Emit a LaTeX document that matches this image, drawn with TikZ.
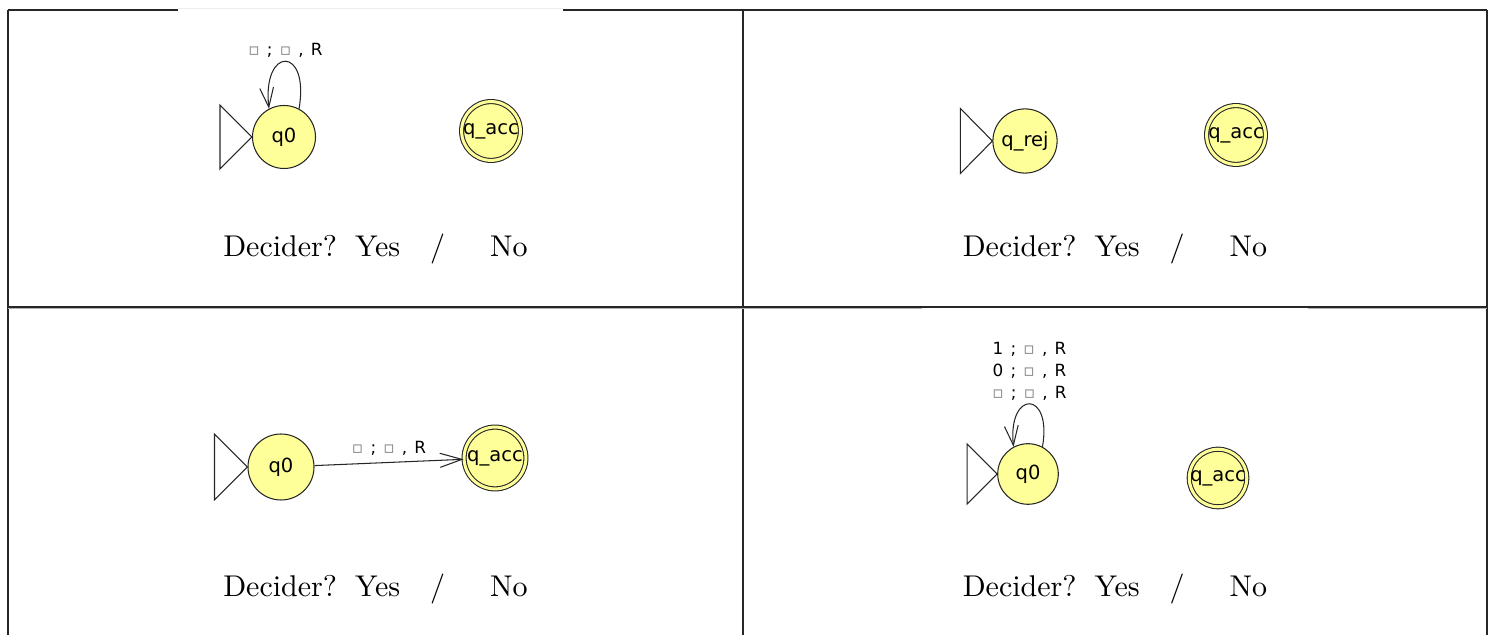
\documentclass[tikz,border=0pt]{standalone}
\usepackage{fontspec}
\usetikzlibrary{arrows.meta}
\newfontfamily\jflapfont{DejaVu Sans}
\definecolor{stateyellow}{RGB}{255,255,153}
\newcommand{\tapeblank}{\textcolor{gray}{\char"25AB}}
\newcommand{\lsp}{\hspace{2.4pt}}
\tikzset{
  state/.style={circle,draw=black!85,fill=stateyellow,line width=0.35pt,minimum size=21pt,inner sep=0pt,font=\jflapfont\fontsize{6.5}{7}\selectfont},
  accepting/.style={state,double=stateyellow,double distance=1pt,minimum size=19.6pt},
  startmark/.style={draw=black!85,line width=0.35pt},
  trans/.style={draw=black!85,line width=0.35pt,-{Straight Barb[length=6.5pt,width=4.6pt]}},
  translabel/.style={font=\jflapfont\fontsize{5.6}{7.3}\selectfont,inner sep=1pt,align=center},
  decider/.style={anchor=base,font=\normalsize},
  grid/.style={draw=black!85,line width=0.4pt},
}
\begin{document}
\begin{tikzpicture}[x=0.33333pt,y=-0.33333pt]
      \useasboundingbox (0,0) rectangle (1493,635);
      % table lines
      \draw[grid] (8,10) -- (178,10);
      \draw[grid] (563,10) -- (1487,10);
      \draw[gray!15] (178,8.5) -- (563,8.5);
      \draw[grid] (8,10) -- (8,635);
      \draw[grid] (743,10) -- (743,635);
      \draw[grid] (1487,10) -- (1487,635);
      \draw[grid] (8,307) -- (1487,307);
      \draw[gray!60] (8,308.7) -- (922,308.7);
      \draw[gray!60] (1308,308.7) -- (1487,308.7);

      % top left
      \node[state] (tlq0) at (284,137) {q0};
      \node[accepting] (tlacc) at (491,131) {q\_acc};
      \draw[startmark] (tlq0.west) -- ++(-32,-32) -- ++(0,64) -- cycle;
      \draw[trans] (tlq0.62) .. controls +(11,-63) and +(-7,-63) .. (tlq0.118)
            node[pos=0.5,above,translabel] {\tapeblank\lsp;\lsp\tapeblank\lsp,\lsp R};
      \node[decider] (tltext) at (375.5,257) {Decider?\hspace{6pt}Yes\quad/\hspace{15pt}No};

      % top right
      \node[state,minimum size=21.4pt] (trrej) at (1025,141) {q\_rej};
      \node[accepting] (tracc) at (1236,135) {q\_acc};
      \draw[startmark] (trrej.west) -- ++(-32,-32.5) -- ++(0,65) -- cycle;
      \node[decider] (trtext) at (1115,257) {Decider?\hspace{6pt}Yes\quad/\hspace{15pt}No};

      % bottom left
      \node[state,minimum size=22pt] (blq0) at (281,467) {q0};
      \node[accepting,minimum size=20.6pt] (blacc) at (495,458) {q\_acc};
      \draw[startmark] (blq0.west) -- ++(-33,-33) -- ++(0,66) -- cycle;
      \draw[trans,-{Straight Barb[length=7.3pt,width=4.7pt]}] (blq0) -- (blacc)
            node[midway,above,translabel,yshift=1pt] {\tapeblank\lsp;\lsp\tapeblank\lsp,\lsp R};
      \node[decider] (bltext) at (375.5,597) {Decider?\hspace{6pt}Yes\quad/\hspace{15pt}No};

      % bottom right
      \node[state,minimum size=20.2pt] (brq0) at (1028,474) {q0};
      \node[accepting,minimum size=18.6pt] (bracc) at (1218,478) {q\_acc};
      \draw[startmark] (brq0.west) -- ++(-30,-30) -- ++(0,60) -- cycle;
      \draw[trans] (brq0.62) .. controls +(10,-57) and +(-6,-57) .. (brq0.118)
            node[pos=0.5,above,translabel] {1\lsp;\lsp\tapeblank\lsp,\lsp R\\0\lsp;\lsp\tapeblank\lsp,\lsp R\\\tapeblank\lsp;\lsp\tapeblank\lsp,\lsp R};
      \node[decider] (brtext) at (1115,597) {Decider?\hspace{6pt}Yes\quad/\hspace{15pt}No};
\end{tikzpicture}
\end{document}
